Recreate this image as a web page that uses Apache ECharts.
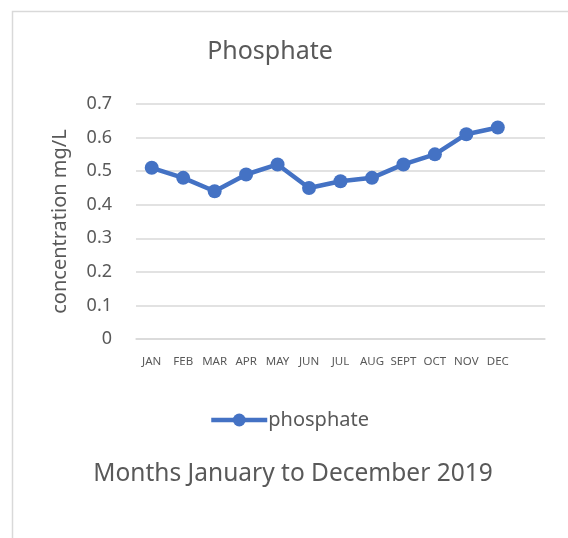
<!DOCTYPE html>
<html>
<head>
<meta charset="utf-8">
<script src="https://cdn.jsdelivr.net/npm/echarts@6/dist/echarts.min.js"></script>
<style>
html,body{margin:0;padding:0;background:#fff;}
#chart{width:568px;height:538px;}
</style>
</head>
<body>
<div id="chart"></div>
<script>
let months=["JAN","FEB","MAR","APR","MAY","JUN","JUL","AUG","SEPT","OCT","NOV","DEC"];
let phosphate=[0.51,0.48,0.44,0.49,0.52,0.45,0.47,0.48,0.52,0.55,0.61,0.63];
let font="Noto Sans";
let grey="#595959";

let chart=echarts.init(document.getElementById("chart"));
//原图有一个空的第13个类目
let axisCats=months.concat([""]);
let option={
	backgroundColor:"#fff",
	//外框
	graphic:[{
		type:"rect",
		shape:{x:12.5,y:11.5,width:600,height:600},
		style:{fill:"none",stroke:"#d9d9d9",lineWidth:1.5},
		silent:true
	}],
	title:[{
		text:"Phosphate",
		left:265,
		textAlign:"center",
		top:34,
		textStyle:{fontFamily:font,fontSize:25,fontWeight:"normal",color:grey}
	},{
		text:"Months January to December 2019",
		left:288,
		textAlign:"center",
		top:457,
		textStyle:{fontFamily:font,fontSize:24.5,fontWeight:"normal",color:grey}
	}],
	legend:{
		data:["phosphate"],
		left:204,
		top:405,
		itemWidth:56,
		itemHeight:16,
		itemGap:4,
		lineStyle:{width:4.5},
		textStyle:{fontFamily:font,fontSize:20,color:grey,padding:[0,0,0,-4]}
	},
	grid:{left:136,right:23,top:104,bottom:199},
	xAxis:{
		type:"category",
		data:axisCats,
		axisLine:{lineStyle:{color:"#d9d9d9",width:1.5}},
		axisTick:{show:false},
		axisLabel:{fontFamily:font,fontSize:11.5,color:grey,margin:17,interval:0}
	},
	yAxis:{
		type:"value",
		min:0,
		max:0.7,
		interval:0.1,
		name:"concentration mg/L",
		nameLocation:"middle",
		nameGap:66,
		nameTextStyle:{fontFamily:font,fontSize:20,color:grey},
		axisLabel:{fontFamily:font,fontSize:18,color:grey,margin:24},
		splitLine:{lineStyle:{color:"#d9d9d9",width:1.5}}
	},
	series:[{
		name:"phosphate",
		type:"line",
		data:phosphate,
		symbol:"circle",
		symbolSize:14,
		lineStyle:{color:"#4472C4",width:4.5},
		itemStyle:{color:"#4472C4"}
	}]
};
chart.setOption(option);
</script>
</body>
</html>
